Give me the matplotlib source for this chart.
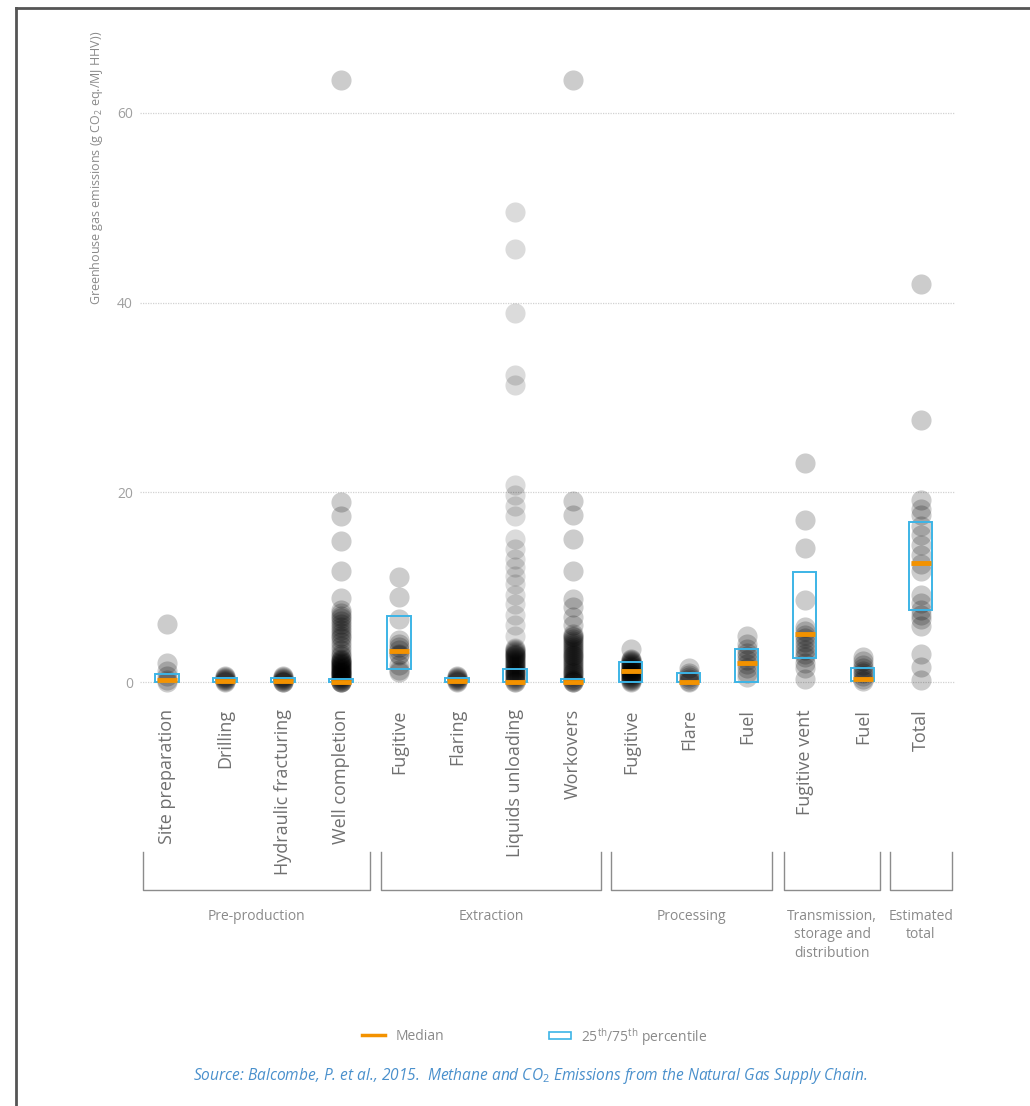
import matplotlib
matplotlib.use("Agg")
import matplotlib.pyplot as plt
from matplotlib.patches import Rectangle

plt.rcParams['font.family'] = ['Open Sans', 'DejaVu Sans']
plt.rcParams['mathtext.fontset'] = 'custom'
plt.rcParams['mathtext.rm'] = 'Open Sans'
plt.rcParams['mathtext.it'] = 'Open Sans:italic'

# categories (left to right)
categories = ["Site preparation", "Drilling", "Hydraulic fracturing", "Well completion",
              "Fugitive", "Flaring", "Liquids unloading", "Workovers",
              "Fugitive", "Flare", "Fuel",
              "Fugitive vent", "Fuel", "Total"]

# estimates (g CO2 eq./MJ HHV)
site_prep = [6.1, 2.0, 1.2, 0.6, 0.2, 0.0]
drilling = [0.6, 0.5, 0.4, 0.3, 0.2, 0.1, 0.0]
hydraulic = [0.6, 0.5, 0.4, 0.3, 0.2, 0.1, 0.05, 0.0]
well_completion = [63.5, 19.0, 17.5, 14.9, 11.7, 8.9, 7.6, 7.3, 7.0, 6.7, 6.4, 6.1, 5.8,
                   5.5, 5.2, 4.9, 4.6, 4.2, 3.8, 3.4, 3.0, 2.7, 2.4, 2.3, 2.2, 2.1, 2.0,
                   1.9, 1.8, 1.7, 1.6, 1.5, 1.4, 1.3, 1.2, 1.1, 1.0, 0.9, 0.8, 0.7, 0.6,
                   0.5, 0.4, 0.3, 0.2, 0.1, 0.0, 0.0, 0.0]
fugitive_ex = [11.1, 9.0, 6.6, 4.4, 4.0, 3.7, 3.4, 3.0, 2.8, 1.8, 1.3, 1.1]
flaring = [0.6, 0.5, 0.4, 0.3, 0.2, 0.1, 0.0]
liquids = [49.6, 45.7, 38.9, 32.4, 31.3, 20.8, 19.7, 18.6, 17.5, 15.1, 14.0, 13.0, 12.1,
           11.2, 10.3, 9.2, 8.2, 7.1, 6.0, 4.9, 3.6, 3.5, 3.4, 3.3, 3.2, 3.1, 3.0, 2.9,
           2.8, 2.7, 2.6, 2.5, 2.4, 2.3, 2.2, 2.1, 2.0, 1.9, 1.8, 1.7, 1.6, 1.5, 1.4,
           1.3, 1.2, 1.1, 1.0, 0.9, 0.8, 0.7, 0.6, 0.5, 0.4, 0.3, 0.2, 0.1, 0.0, 0.0]
workovers = [63.5, 19.1, 17.6, 15.1, 11.7, 8.8, 7.9, 6.9, 6.0, 5.1, 4.9, 4.7, 4.5, 4.3,
             4.1, 3.9, 3.7, 3.5, 3.3, 3.1, 2.9, 2.7, 2.5, 2.3, 2.1, 1.9, 1.7, 1.5, 1.3,
             1.1, 0.9, 0.7, 0.5, 0.3, 0.2, 0.1, 0.0, 0.0]
fugitive_proc = [3.5, 2.4, 2.3, 2.2, 2.1, 2.0, 1.9, 1.8, 1.7, 1.6, 1.5, 1.4, 1.3, 1.2,
                 1.1, 1.0, 0.9, 0.8, 0.7, 0.6, 0.5, 0.4, 0.3, 0.2, 0.1, 0.0]
flare_proc = [1.5, 1.0, 0.7, 0.5, 0.3, 0.1, 0.0]
fuel_proc = [4.9, 4.0, 3.5, 3.1, 2.7, 2.3, 1.9, 1.5, 1.0, 0.5]
fugitive_vent = [23.1, 17.1, 14.1, 8.6, 5.8, 5.4, 5.0, 4.6, 4.2, 3.8, 3.4, 3.0, 2.6,
                 2.0, 1.5, 0.3]
fuel_tsd = [2.6, 2.2, 1.8, 1.5, 1.2, 0.9, 0.6, 0.3, 0.1]
total = [42.0, 27.6, 19.2, 18.2, 17.6, 16.5, 15.5, 14.4, 13.4, 12.4, 11.7, 9.2, 8.3,
         7.6, 7.1, 6.6, 5.9, 3.0, 1.6, 0.2]

series = [site_prep, drilling, hydraulic, well_completion, fugitive_ex, flaring, liquids,
          workovers, fugitive_proc, flare_proc, fuel_proc, fugitive_vent, fuel_tsd, total]

medians = [0.2, 0.15, 0.1, 0.05, 3.3, 0.1, 0.05, 0.05, 1.2, 0.05, 2.0, 5.1, 0.35, 12.5]
q25 = [0.0, 0.0, 0.0, 0.0, 1.4, 0.0, 0.0, 0.0, 0.0, 0.0, 0.0, 2.5, 0.1, 7.6]
q75 = [0.8, 0.4, 0.4, 0.3, 7.0, 0.4, 1.4, 0.3, 2.1, 1.0, 3.5, 11.6, 1.5, 16.9]

groups = ["Pre-production", "Extraction", "Processing",
          "Transmission,\nstorage and\ndistribution", "Estimated\ntotal"]

W, H = 1030, 1106
fig = plt.figure(figsize=(W / 100, H / 100), dpi=100)

# main axes in pixel layout: x 140..955, y 37..701
ax = fig.add_axes([140 / W, 1 - 701 / H, (955 - 140) / W, (701 - 37) / H])
ax.set_xlim(-0.466, 13.59)
ax.set_ylim(-2.0, 68.0)
for s in ax.spines.values():
    s.set_visible(False)
ax.tick_params(length=0, labelsize=10, labelcolor='#a0a0a0', pad=5)
ax.set_xticks([])
ax.set_yticks([0, 20, 40, 60])
for v in [0, 20, 40, 60]:
    ax.axhline(v, color='#d2d2d2', lw=0.9, ls=(0, (1, 1)), zorder=0)

for i, vals in enumerate(series):
    a = 0.14 if i == 6 else 0.2
    ax.scatter([i] * len(vals), vals, s=210, color='black', alpha=a, lw=0, zorder=2)
    ax.add_patch(Rectangle((i - 0.2, q25[i]), 0.4, q75[i] - q25[i], fill=False,
                           edgecolor='#3cb4e6', lw=1.4, zorder=4))
    ax.hlines(medians[i], i - 0.17, i + 0.17, color='#f39200', lw=3.5, zorder=5)

# overlay in pixel coordinates for labels, brackets, legend, border
ov = fig.add_axes([0, 0, 1, 1])
ov.set_xlim(0, W)
ov.set_ylim(H, 0)
ov.axis('off')

ov.text(97, 168, "Greenhouse gas emissions (g CO$_2$ eq./MJ HHV))", rotation=90,
        ha='center', va='center', fontsize=9, color='#8a8a8a')

for i, c in enumerate(categories):
    ov.text(167 + 58 * i, 709, c, rotation=90, ha='center', va='top',
            fontsize=13, color='#707070')

brackets = [(143, 370), (381, 601), (611, 772), (784, 880), (890, 952)]
for (l, r), g in zip(brackets, groups):
    ov.plot([l, l, r, r], [852, 890, 890, 852], color='#8c8c8c', lw=1)
    ov.text((l + r) / 2, 909, g, ha='center', va='top', fontsize=10,
            color='#8a8a8a', linespacing=1.3)

ov.plot([362, 385], [1035, 1035], color='#f39200', lw=2.5)
ov.text(396, 1036, "Median", va='center', fontsize=10, color='#8a8a8a')
ov.add_patch(Rectangle((549, 1032), 22, 7, fill=False, edgecolor='#3cb4e6', lw=1.2))
ov.text(581, 1037, "25$^{\\rm th}$/75$^{\\rm th}$ percentile", va='center', fontsize=10,
        color='#8a8a8a')

ov.text(530, 1076, "Source: Balcombe, P. et al., 2015.  Methane and CO$_2$ Emissions "
        "from the Natural Gas Supply Chain.", ha='center', va='center', fontsize=11.2,
        style='italic', color='#4a90cc')

ov.plot([16, 1030], [8, 8], color='#555555', lw=2)
ov.plot([16, 16], [8, 1106], color='#555555', lw=2)

fig.savefig("out.png", dpi=100)
